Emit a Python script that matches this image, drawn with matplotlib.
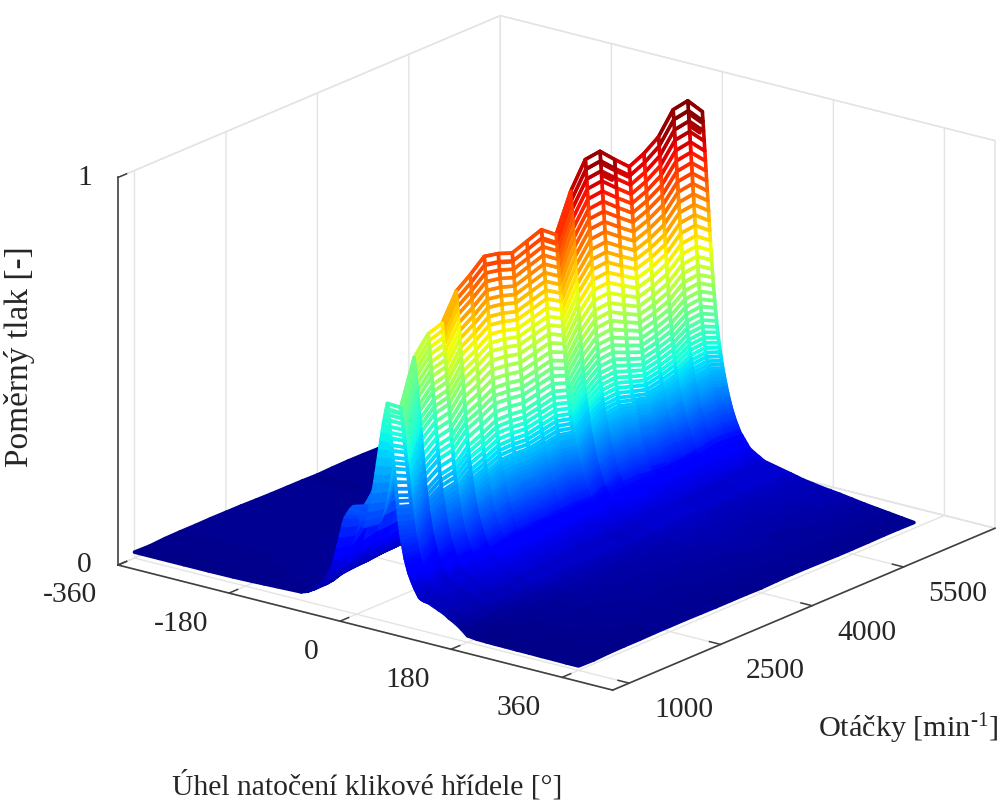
import numpy as np
import matplotlib
matplotlib.use("Agg")
import matplotlib.pyplot as plt
from mpl_toolkits.mplot3d import proj3d

# ---------- values ----------
rpm = [1000, 1250, 1500, 1750, 2000, 2250, 2500, 2750, 3000, 3250, 3500, 3750,
       4000, 4250, 4500, 4750, 5000, 5250, 5500, 5750, 6000, 6250, 6500]
peak_pressure = [.564, .535, .646, .69, .70, .765, .79, .82, .81, .794, .807, .82,
                 .79, .885, .95, .954, .916, .88, .897, .923, .976, .982, .937]
peak_angle = [50, 47, 44, 42, 40, 38, 36, 34, 32, 30, 29, 28,
              27, 26, 25, 24, 23, 22, 21, 20, 19, 18, 17]
high_rpm_weight = [0, .05, .1, .15, .2, .3, .4, .5, .6, .65, .7, .75,
                   .8, .82, .85, .88, .9, .92, .94, .96, .98, .99, 1]
colour_gain = [.75, .8, .85, .92, .95, 1, 1, 1, 1, 1, 1, 1,
               1, 1, 1, 1, 1, 1, 1, 1, 1, 1, 1]

left_tail_angle = [-360, -320, -280, -240, -200, -170, -150, -130]
left_tail_low = [.027, .027, .027, .027, .028, .03, .032, .034]
left_tail_high = [.016, .016, .016, .017, .018, .019, .02, .022]

rise_offset = [-140, -130, -120, -110, -100, -95, -90, -85, -80, -76, -72, -68, -64, -60, -56, -53, -50,
               -47, -44, -41, -38, -35, -32, -29, -26, -23, -20, -18, -16, -14, -12, -10, -8, -6, -4, -2]
rise_low = [.038, .048, .065, .09, .125, .15, .18, .23, .29, .34, .39, .43, .45, .47, .485, .49, .48,
            .46, .44, .42, .41, .42, .45, .49, .53, .58, .63, .67, .71, .75, .79, .83, .87, .91, .94, .97]
rise_high = [.025, .03, .04, .055, .08, .095, .115, .145, .18, .21, .24, .27, .30, .33, .37, .39, .42,
             .45, .47, .495, .52, .55, .58, .61, .64, .67, .70, .73, .76, .79, .82, .85, .88, .91, .94, .97]

fall_offset = list(range(0, 61)) + [64, 68, 72, 76, 84, 92, 100]
fall_low = [1, .975, .95, .925, .897, .87, .845, .815, .79, .76, .735, .71,
            .68, .65, .62, .59, .565, .54, .51, .48,
            .46, .44, .42, .40, .385, .37, .355, .34, .325, .31, .30,
            .29, .28, .27, .26, .25, .243, .236, .229, .222, .215, .209, .203, .197, .191, .185,
            .18, .175, .17, .165, .16, .155, .15, .148, .146, .144, .143, .142, .141, .14, .139,
            .137, .135, .13, .125, .115, .105, .09]
fall_high = [1, .975, .948, .921, .894, .867, .84, .813, .786, .759, .732, .705, .678, .651, .624, .598,
             .574, .551, .529, .508, .488, .469, .451, .434, .418, .403, .389, .376, .363, .351, .34,
             .329, .319, .309, .30, .291, .282, .274, .266, .258, .25, .243, .236, .229, .222,
             .216, .21, .204, .198, .193, .188, .183, .178, .173, .169, .165, .161, .157, .153, .149, .145,
             .135, .125, .115, .105, .096, .088, .08]

right_tail_angle = [160, 170, 180, 195, 210, 225, 240, 260, 280, 300, 320, 340, 360]
right_tail_low = [.075, .055, .03, .025, .024, .023, .023, .022, .022, .021, .021, .02, .02]
right_tail_high = [.064, .06, .056, .052, .048, .045, .042, .037, .032, .028, .024, .02, .016]

x_ticks = [-360, -180, 0, 180, 360]
y_ticks = [1000, 2500, 4000, 5500]
z_ticks = [0, 1]
x_tick_labels = ['-360', '-180', '0', '180', '360']
y_tick_labels = ['1000', '2500', '4000', '5500']
z_tick_labels = ['0', '1']
x_label = 'Úhel natočení klikové hřídele [°]'
y_label = r'Otáčky [min$^{\text{-1}}$]'
z_label = 'Poměrný tlak [-]'

# ---------- surface table ----------
rpm_a = np.array(rpm, float)
peak = np.array(peak_pressure)
pk_ang = np.array(peak_angle, float)
w = np.array(high_rpm_weight)[:, None]

low = np.array(left_tail_low + rise_low + fall_low + right_tail_low)
high = np.array(left_tail_high + rise_high + fall_high + right_tail_high)
Z = (low[None, :] * (1 - w) + high[None, :] * w) * peak[:, None]

n_left, n_rise, n_fall, n_right = len(left_tail_angle), len(rise_offset), len(fall_offset), len(right_tail_angle)
A = np.zeros_like(Z)
A[:, :n_left] = np.array(left_tail_angle, float)
A[:, n_left:n_left + n_rise + n_fall] = pk_ang[:, None] + np.array(rise_offset + fall_offset, float)
A[:, n_left + n_rise + n_fall:] = np.array(right_tail_angle, float)
R = np.repeat(rpm_a[:, None], Z.shape[1], axis=1)

# ---------- styling ----------
plt.rcParams['font.family'] = ['Liberation Serif', 'DejaVu Serif']
plt.rcParams['mathtext.fontset'] = 'custom'
plt.rcParams['mathtext.rm'] = 'Liberation Serif'
plt.rcParams['mathtext.default'] = 'regular'
plt.rcParams['grid.color'] = '#e4e4e4'
plt.rcParams['grid.linewidth'] = 1.0
FS = 21.3
TXT = '#262626'
W, H = 1000, 801
fig = plt.figure(figsize=(W / 100, H / 100), dpi=100, facecolor='white')
S0 = 800
ax = fig.add_axes([.1, .05, S0 / W, S0 / H], projection='3d', proj_type='ortho')
xlim = (-360, 442)
ylim = (730, 7000)
ax.set_xlim(*xlim)
ax.set_ylim(*ylim)
ax.set_zlim(0, 1)
ax.view_init(elev=19.1, azim=-52.3)
ax.set_box_aspect((1, 1, .656))
ax.set_xticks(x_ticks)
ax.set_yticks(y_ticks)
ax.set_zticks(z_ticks)
ax.set_xticklabels([])
ax.set_yticklabels([])
ax.set_zticklabels([])
ax.zaxis.set_ticks_position('lower')
for axis in (ax.xaxis, ax.yaxis, ax.zaxis):
    axis.set_pane_color((1, 1, 1, 1))
    axis.pane.set_edgecolor('#e0e0e0')
    axis.pane.set_linewidth(1.0)
    axis.line.set_color('#404040')
    axis.line.set_linewidth(1.2)
    axis._axinfo['tick']['inward_factor'] = 0.0
    axis._axinfo['tick']['outward_factor'] = 0.28
    axis._axinfo['tick']['linewidth'] = {True: 1.1, False: 1.1}
    axis._axinfo['tick']['color'] = '#404040'
    axis._axinfo['grid']['color'] = '#e4e4e4'
    axis._axinfo['grid']['linewidth'] = 1.0
ax.tick_params(colors='#404040')
ax.set_facecolor('white')

vmax = .96
cmap = plt.get_cmap('jet')
Zm = 0.25 * (Z[:-1, :-1] + Z[1:, :-1] + Z[:-1, 1:] + Z[1:, 1:])
edge = cmap(np.clip(Zm / vmax * np.array(colour_gain[:-1])[:, None], 0, 1))
face = edge.copy()
on_fall = np.zeros(Zm.shape, bool)
on_fall[:, n_left + n_rise:] = True
face[(Zm > .30) & on_fall] = (1, 1, 1, 1)
surf = ax.plot_surface(A, R, Z, rstride=1, cstride=1, facecolors=face, shade=False,
                       linewidth=2.6, antialiased=True)
surf.set_edgecolor(edge.reshape(-1, 4))


def px(x, y, z):
    xp, yp, _ = proj3d.proj_transform(x, y, z, ax.get_proj())
    return ax.transData.transform((xp, yp))


target_A = np.array([118, H - 565.0])
target_B = np.array([995, H - 528.0])
fig.canvas.draw()
pa, pb = px(xlim[0], ylim[0], 0), px(xlim[1], ylim[1], 0)
s = (target_B[0] - target_A[0]) / (pb[0] - pa[0])
S1 = S0 * s
ax.set_position([.1, .05, S1 / W, S1 / H])
fig.canvas.draw()
pa = px(xlim[0], ylim[0], 0)
d = target_A - pa
ax.set_position([.1 + d[0] / W, .05 + d[1] / H, S1 / W, S1 / H])
fig.canvas.draw()

for v, t in zip(x_ticks, x_tick_labels):
    p = px(v, ylim[0], 0)
    fig.text((p[0] - 21) / W, (p[1] - 30.5) / H, t, ha='right', va='center', fontsize=FS, color=TXT)
for v, t in zip(y_ticks, y_tick_labels):
    p = px(xlim[1], v, 0)
    fig.text((p[0] + 25) / W, (p[1] - 27) / H, t, ha='left', va='center', fontsize=FS, color=TXT)
for v, t in zip(z_ticks, z_tick_labels):
    p = px(xlim[0], ylim[0], v)
    fig.text((p[0] - 26) / W, (p[1] - 0.5) / H, t, ha='right', va='center', fontsize=FS, color=TXT)

fig.text(367 / W, 1 - 785 / H, x_label, ha='center', va='center', fontsize=FS, color=TXT)
fig.text(908 / W, 1 - 729 / H, y_label, ha='center', va='center', fontsize=21.8, color=TXT)
fig.text(20 / W, 1 - 357 / H, z_label, ha='center', va='center', rotation=90, fontsize=24, color=TXT)

fig.savefig('out.png', dpi=100, facecolor='white')
